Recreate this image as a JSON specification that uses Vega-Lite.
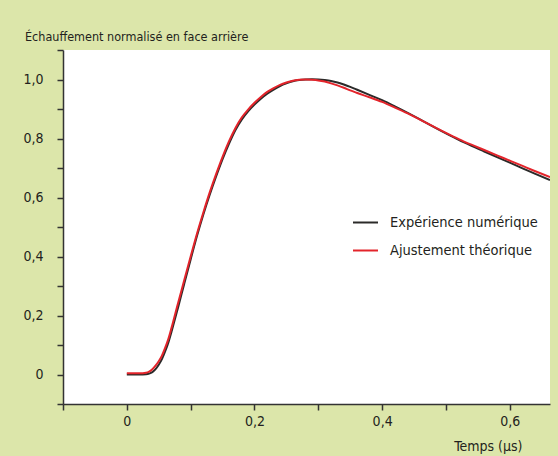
{
  "$schema": "https://vega.github.io/schema/vega-lite/v6.json",
  "autosize": {"type": "none"},
  "width": 487,
  "height": 354,
  "padding": {"left": 63, "top": 50, "right": 8, "bottom": 52},
  "background": "#dce6aa",
  "title": {
    "text": "Échauffement normalisé en face arrière",
    "anchor": "start",
    "frame": "group",
    "dx": -38,
    "baseline": "alphabetic",
    "offset": -4,
    "fontSize": 12.5,
    "fontWeight": "normal",
    "font": "DejaVu Sans Condensed, sans-serif",
    "color": "#231f20"
  },
  "datasets": {
    "curves": [
      {"t": 0, "v": 0, "s": "Expérience numérique"},
      {"t": 0.01, "v": 0, "s": "Expérience numérique"},
      {"t": 0.02, "v": 0, "s": "Expérience numérique"},
      {"t": 0.03, "v": 0.001, "s": "Expérience numérique"},
      {"t": 0.035, "v": 0.003, "s": "Expérience numérique"},
      {"t": 0.04, "v": 0.008, "s": "Expérience numérique"},
      {"t": 0.045, "v": 0.018, "s": "Expérience numérique"},
      {"t": 0.05, "v": 0.033, "s": "Expérience numérique"},
      {"t": 0.055, "v": 0.052, "s": "Expérience numérique"},
      {"t": 0.06, "v": 0.078, "s": "Expérience numérique"},
      {"t": 0.065, "v": 0.108, "s": "Expérience numérique"},
      {"t": 0.07, "v": 0.145, "s": "Expérience numérique"},
      {"t": 0.08, "v": 0.225, "s": "Expérience numérique"},
      {"t": 0.09, "v": 0.308, "s": "Expérience numérique"},
      {"t": 0.1, "v": 0.39, "s": "Expérience numérique"},
      {"t": 0.11, "v": 0.47, "s": "Expérience numérique"},
      {"t": 0.12, "v": 0.543, "s": "Expérience numérique"},
      {"t": 0.13, "v": 0.61, "s": "Expérience numérique"},
      {"t": 0.14, "v": 0.672, "s": "Expérience numérique"},
      {"t": 0.15, "v": 0.73, "s": "Expérience numérique"},
      {"t": 0.16, "v": 0.782, "s": "Expérience numérique"},
      {"t": 0.17, "v": 0.828, "s": "Expérience numérique"},
      {"t": 0.18, "v": 0.864, "s": "Expérience numérique"},
      {"t": 0.19, "v": 0.892, "s": "Expérience numérique"},
      {"t": 0.2, "v": 0.915, "s": "Expérience numérique"},
      {"t": 0.21, "v": 0.935, "s": "Expérience numérique"},
      {"t": 0.22, "v": 0.952, "s": "Expérience numérique"},
      {"t": 0.23, "v": 0.966, "s": "Expérience numérique"},
      {"t": 0.24, "v": 0.978, "s": "Expérience numérique"},
      {"t": 0.25, "v": 0.987, "s": "Expérience numérique"},
      {"t": 0.26, "v": 0.994, "s": "Expérience numérique"},
      {"t": 0.27, "v": 0.998, "s": "Expérience numérique"},
      {"t": 0.28, "v": 1.0, "s": "Expérience numérique"},
      {"t": 0.29, "v": 1.001, "s": "Expérience numérique"},
      {"t": 0.3, "v": 1.0, "s": "Expérience numérique"},
      {"t": 0.31, "v": 0.998, "s": "Expérience numérique"},
      {"t": 0.32, "v": 0.995, "s": "Expérience numérique"},
      {"t": 0.33, "v": 0.99, "s": "Expérience numérique"},
      {"t": 0.34, "v": 0.983, "s": "Expérience numérique"},
      {"t": 0.35, "v": 0.975, "s": "Expérience numérique"},
      {"t": 0.36, "v": 0.966, "s": "Expérience numérique"},
      {"t": 0.38, "v": 0.948, "s": "Expérience numérique"},
      {"t": 0.4, "v": 0.93, "s": "Expérience numérique"},
      {"t": 0.42, "v": 0.909, "s": "Expérience numérique"},
      {"t": 0.44, "v": 0.887, "s": "Expérience numérique"},
      {"t": 0.46, "v": 0.864, "s": "Expérience numérique"},
      {"t": 0.48, "v": 0.84, "s": "Expérience numérique"},
      {"t": 0.5, "v": 0.817, "s": "Expérience numérique"},
      {"t": 0.52, "v": 0.795, "s": "Expérience numérique"},
      {"t": 0.54, "v": 0.775, "s": "Expérience numérique"},
      {"t": 0.56, "v": 0.756, "s": "Expérience numérique"},
      {"t": 0.58, "v": 0.737, "s": "Expérience numérique"},
      {"t": 0.6, "v": 0.718, "s": "Expérience numérique"},
      {"t": 0.62, "v": 0.699, "s": "Expérience numérique"},
      {"t": 0.64, "v": 0.68, "s": "Expérience numérique"},
      {"t": 0.663, "v": 0.659, "s": "Expérience numérique"},
      {"t": 0, "v": 0.004, "s": "Ajustement théorique"},
      {"t": 0.01, "v": 0.004, "s": "Ajustement théorique"},
      {"t": 0.02, "v": 0.004, "s": "Ajustement théorique"},
      {"t": 0.03, "v": 0.006, "s": "Ajustement théorique"},
      {"t": 0.035, "v": 0.01, "s": "Ajustement théorique"},
      {"t": 0.04, "v": 0.018, "s": "Ajustement théorique"},
      {"t": 0.045, "v": 0.03, "s": "Ajustement théorique"},
      {"t": 0.05, "v": 0.045, "s": "Ajustement théorique"},
      {"t": 0.055, "v": 0.064, "s": "Ajustement théorique"},
      {"t": 0.06, "v": 0.09, "s": "Ajustement théorique"},
      {"t": 0.065, "v": 0.12, "s": "Ajustement théorique"},
      {"t": 0.07, "v": 0.158, "s": "Ajustement théorique"},
      {"t": 0.08, "v": 0.24, "s": "Ajustement théorique"},
      {"t": 0.09, "v": 0.32, "s": "Ajustement théorique"},
      {"t": 0.1, "v": 0.4, "s": "Ajustement théorique"},
      {"t": 0.11, "v": 0.478, "s": "Ajustement théorique"},
      {"t": 0.12, "v": 0.55, "s": "Ajustement théorique"},
      {"t": 0.13, "v": 0.618, "s": "Ajustement théorique"},
      {"t": 0.14, "v": 0.68, "s": "Ajustement théorique"},
      {"t": 0.15, "v": 0.738, "s": "Ajustement théorique"},
      {"t": 0.16, "v": 0.79, "s": "Ajustement théorique"},
      {"t": 0.17, "v": 0.835, "s": "Ajustement théorique"},
      {"t": 0.18, "v": 0.871, "s": "Ajustement théorique"},
      {"t": 0.19, "v": 0.898, "s": "Ajustement théorique"},
      {"t": 0.2, "v": 0.921, "s": "Ajustement théorique"},
      {"t": 0.21, "v": 0.941, "s": "Ajustement théorique"},
      {"t": 0.22, "v": 0.958, "s": "Ajustement théorique"},
      {"t": 0.23, "v": 0.971, "s": "Ajustement théorique"},
      {"t": 0.24, "v": 0.982, "s": "Ajustement théorique"},
      {"t": 0.25, "v": 0.99, "s": "Ajustement théorique"},
      {"t": 0.26, "v": 0.996, "s": "Ajustement théorique"},
      {"t": 0.27, "v": 0.999, "s": "Ajustement théorique"},
      {"t": 0.28, "v": 1.0, "s": "Ajustement théorique"},
      {"t": 0.29, "v": 0.999, "s": "Ajustement théorique"},
      {"t": 0.3, "v": 0.997, "s": "Ajustement théorique"},
      {"t": 0.31, "v": 0.993, "s": "Ajustement théorique"},
      {"t": 0.32, "v": 0.987, "s": "Ajustement théorique"},
      {"t": 0.33, "v": 0.98, "s": "Ajustement théorique"},
      {"t": 0.34, "v": 0.972, "s": "Ajustement théorique"},
      {"t": 0.35, "v": 0.963, "s": "Ajustement théorique"},
      {"t": 0.36, "v": 0.955, "s": "Ajustement théorique"},
      {"t": 0.38, "v": 0.94, "s": "Ajustement théorique"},
      {"t": 0.4, "v": 0.924, "s": "Ajustement théorique"},
      {"t": 0.42, "v": 0.905, "s": "Ajustement théorique"},
      {"t": 0.44, "v": 0.885, "s": "Ajustement théorique"},
      {"t": 0.46, "v": 0.863, "s": "Ajustement théorique"},
      {"t": 0.48, "v": 0.841, "s": "Ajustement théorique"},
      {"t": 0.5, "v": 0.819, "s": "Ajustement théorique"},
      {"t": 0.52, "v": 0.798, "s": "Ajustement théorique"},
      {"t": 0.54, "v": 0.779, "s": "Ajustement théorique"},
      {"t": 0.56, "v": 0.761, "s": "Ajustement théorique"},
      {"t": 0.58, "v": 0.743, "s": "Ajustement théorique"},
      {"t": 0.6, "v": 0.725, "s": "Ajustement théorique"},
      {"t": 0.62, "v": 0.707, "s": "Ajustement théorique"},
      {"t": 0.64, "v": 0.689, "s": "Ajustement théorique"},
      {"t": 0.663, "v": 0.669, "s": "Ajustement théorique"}
    ]
  },
  "data": {"name": "curves"},
  "mark": {"type": "line", "strokeWidth": 2, "interpolate": "monotone", "clip": true},
  "encoding": {
    "x": {
      "field": "t",
      "type": "quantitative",
      "scale": {"domain": [-0.1, 0.663], "nice": false, "zero": false},
      "axis": {
        "title": "Temps (µs)",
        "values": [-0.1, 0, 0.1, 0.2, 0.3, 0.4, 0.5, 0.6],
        "labelExpr": "datum.value == 0 ? '0' : (datum.value > 0 && round(datum.value * 10) % 2 == 0 ? replace(format(datum.value, '.1f'), '.', ',') : '')",
        "grid": false,
        "tickSize": 6,
        "labelPadding": 4,
        "labelFontSize": 14,
        "titleFontSize": 14,
        "titleX": 459,
        "titleY": 46,
        "titleAlign": "right",
        "titleBaseline": "alphabetic",
        "titleAnchor": null
      }
    },
    "y": {
      "field": "v",
      "type": "quantitative",
      "scale": {"domain": [-0.1, 1.1], "nice": false, "zero": false},
      "axis": {
        "title": null,
        "values": [-0.1, 0, 0.1, 0.2, 0.3, 0.4, 0.5, 0.6, 0.7, 0.8, 0.9, 1.0, 1.1],
        "labelExpr": "datum.value == 0 ? '0' : (datum.value > 0 && round(datum.value * 10) % 2 == 0 ? replace(format(datum.value, '.1f'), '.', ',') : '')",
        "grid": false,
        "tickSize": 6,
        "labelPadding": 14,
        "labelFontSize": 14
      }
    },
    "color": {
      "field": "s",
      "type": "nominal",
      "sort": ["Expérience numérique", "Ajustement théorique"],
      "scale": {"domain": ["Expérience numérique", "Ajustement théorique"], "range": ["#2b2a29", "#e3242b"]},
      "legend": {
        "title": null,
        "orient": "none",
        "legendX": 289,
        "legendY": 159,
        "symbolType": "stroke",
        "symbolSize": 625,
        "symbolStrokeWidth": 2,
        "labelFontSize": 14.5,
        "labelOffset": 11,
        "rowPadding": 8,
        "padding": 0,
        "labelColor": "#231f20"
      }
    }
  },
  "config": {
    "font": "DejaVu Sans Condensed, sans-serif",
    "view": {"fill": "white", "stroke": null},
    "axis": {
      "domainColor": "#333333",
      "domainWidth": 1.5,
      "tickColor": "#333333",
      "tickWidth": 1.5,
      "labelColor": "#231f20",
      "titleColor": "#231f20",
      "titleFontWeight": "normal",
      "labelFont": "DejaVu Sans Condensed, sans-serif",
      "titleFont": "DejaVu Sans Condensed, sans-serif"
    },
    "legend": {
      "labelFont": "DejaVu Sans Condensed, sans-serif"
    }
  }
}
